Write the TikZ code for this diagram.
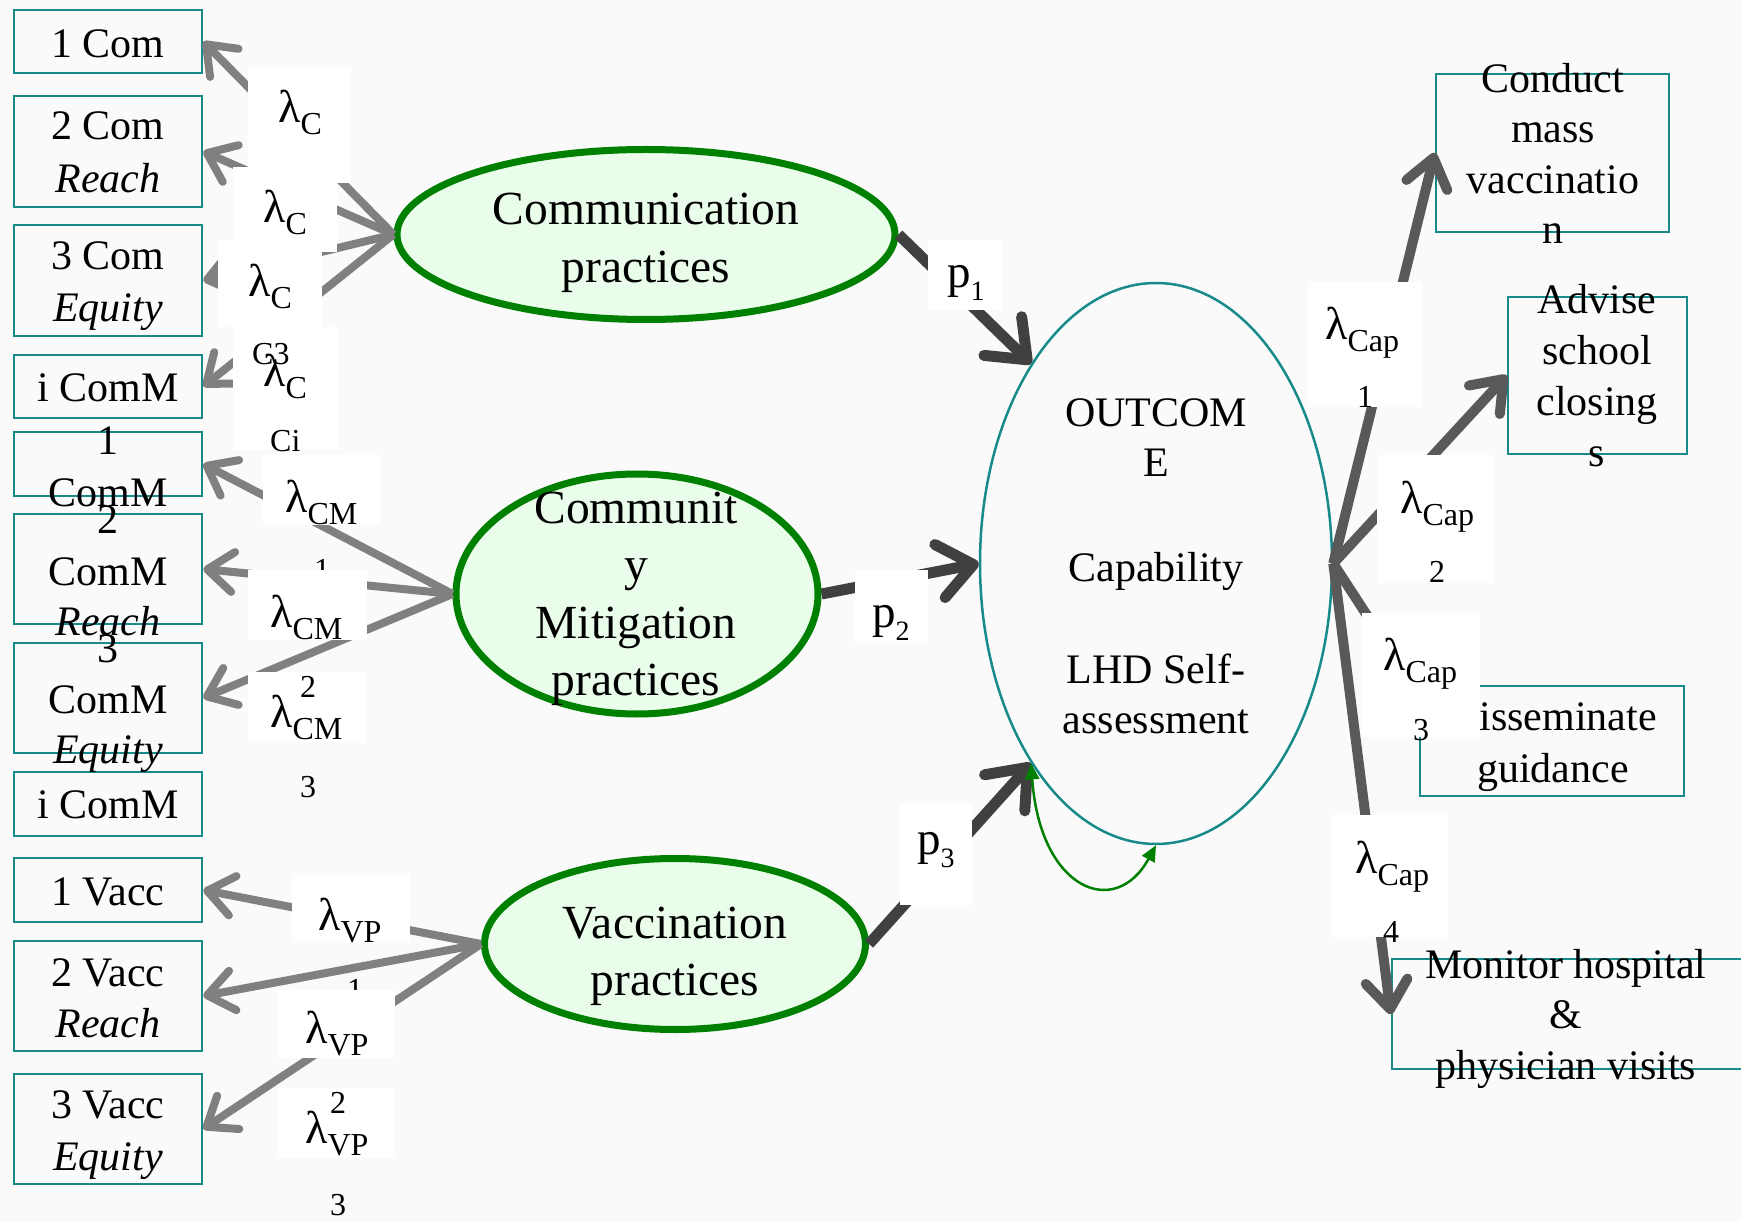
\documentclass[tikz,border=0pt]{standalone}
\usepackage{fontspec}
\setmainfont{Liberation Serif}
\usetikzlibrary{shapes.geometric,arrows.meta}
\definecolor{tealb}{RGB}{24,138,138}
\definecolor{ellg}{RGB}{0,128,0}
\definecolor{ellfill}{RGB}{234,252,234}
\definecolor{bgc}{RGB}{250,250,250}
\definecolor{lgray}{RGB}{128,128,128}
\definecolor{pdark}{RGB}{64,64,64}
\definecolor{rgray}{RGB}{89,89,89}
\newcommand\BoxF{\fontsize{42}{50}\selectfont}
\newcommand\EllF{\fontsize{47.5}{57}\selectfont}
\newcommand\LamF{\fontsize{46}{50}\selectfont}
\newcommand\SubF{\fontsize{32}{36}\selectfont}
\newcommand\PF{\fontsize{47}{52}\selectfont}
\newcommand\PSubF{\fontsize{28}{32}\selectfont}
\newcommand\lamlab[1]{{\LamF λ}\raisebox{-12pt}{\SubF #1}}
\newcommand\plab[1]{{\PF p}\raisebox{-13pt}{\PSubF #1}}
\begin{document}
\begin{tikzpicture}[x=1pt,y=-1pt,
  tbox/.style={rectangle, draw=tealb, line width=2.5pt, inner sep=0pt},
  gell/.style={ellipse, draw=ellg, line width=7pt, fill=ellfill, inner sep=0pt},
  oell/.style={ellipse, draw=tealb, line width=2.5pt, inner sep=0pt},
  btxt/.style={anchor=base, inner sep=0pt, font=\BoxF},
  etxt/.style={anchor=base, inner sep=0pt, font=\EllF},
  lab/.style={anchor=base west, inner sep=0pt},
  sublab/.style={anchor=base west, inner sep=0pt, font=\SubF},
  larrow/.style={draw=lgray, line width=8pt, -{Straight Barb[length=26pt,width=40pt,round]}},
  parrow/.style={draw=pdark, line width=11pt, -{Straight Barb[length=34pt,width=54pt,round]}},
  rarrow/.style={draw=rgray, line width=10pt, -{Straight Barb[length=28pt,width=42pt,round]}},
  varrow/.style={draw=ellg, line width=2.5pt, {Triangle[length=16pt,width=14pt]}-{Triangle[length=16pt,width=14pt]}},
  wlab/.style={fill=white}
]
\useasboundingbox (0,0) rectangle (1741,1222);
\fill[bgc] (0,0) rectangle (1741,1222);

% left indicator boxes
\node[tbox, minimum width=188pt, minimum height=63pt] (b1) at (108,41.5) {};
\node[tbox, minimum width=188pt, minimum height=111pt] (b2) at (108,151.5) {};
\node[tbox, minimum width=188pt, minimum height=111pt] (b3) at (108,280.5) {};
\node[tbox, minimum width=188pt, minimum height=63pt] (b4) at (108,386.5) {};
\node[tbox, minimum width=188pt, minimum height=64pt] (b5) at (108,464) {};
\node[tbox, minimum width=188pt, minimum height=110pt] (b6) at (108,569) {};
\node[tbox, minimum width=188pt, minimum height=110pt] (b7) at (108,698) {};
\node[tbox, minimum width=188pt, minimum height=64pt] (b8) at (108,804) {};
\node[tbox, minimum width=188pt, minimum height=64pt] (b9) at (108,890) {};
\node[tbox, minimum width=188pt, minimum height=110pt] (b10) at (108,996) {};
\node[tbox, minimum width=188pt, minimum height=110pt] (b11) at (108,1129) {};

\node[btxt] (t1) at (108,58) {1 Com};
\node[btxt] (t2a) at (108,140) {2 Com};
\node[btxt] (t2b) at (108,193) {\textit{Reach}};
\node[btxt] (t3a) at (108,270) {3 Com};
\node[btxt] (t3b) at (108,322) {\textit{Equity}};
\node[btxt] (t4) at (108,402) {i ComM};
\node[btxt] (t5a) at (108,455) {1};
\node[btxt] (t5b) at (108,507) {ComM};
\node[btxt] (t6a) at (108,533) {2};
\node[btxt] (t6b) at (108,585) {ComM};
\node[btxt] (t6c) at (108,635) {\textit{Reach}};
\node[btxt] (t7a) at (108,662) {3};
\node[btxt] (t7b) at (108,713) {ComM};
\node[btxt] (t7c) at (108,763) {\textit{Equity}};
\node[btxt] (t8) at (108,818) {i ComM};
\node[btxt] (t9) at (108,905) {1 Vacc};
\node[btxt] (t10a) at (108,986) {2 Vacc};
\node[btxt] (t10b) at (108,1037) {\textit{Reach}};
\node[btxt] (t11a) at (108,1118) {3 Vacc};
\node[btxt] (t11b) at (108,1170) {\textit{Equity}};

% right indicator boxes
\node[tbox, minimum width=233pt, minimum height=158pt] (r1) at (1552.5,153) {};
\node[tbox, minimum width=179pt, minimum height=157pt] (r2) at (1597.5,375.5) {};
\node[tbox, minimum width=264pt, minimum height=110pt] (r3) at (1552,741) {};
\node[tbox, minimum width=353pt, minimum height=110pt] (r4) at (1568.5,1014) {};

\node[btxt] (s1a) at (1553,93) {Conduct};
\node[btxt] (s1b) at (1553,143) {mass};
\node[btxt] (s1c) at (1553,194) {vaccinatio};
\node[btxt] (s1d) at (1553,244) {n};
\node[btxt] (s2a) at (1597,314) {Advise};
\node[btxt] (s2b) at (1597,365) {school};
\node[btxt] (s2c) at (1597,416) {closing};
\node[btxt] (s2d) at (1597,467) {s};
\node[btxt] (s3a) at (1553,730) {Disseminate};
\node[btxt] (s3b) at (1553,782) {guidance};
\node[btxt] (s4a) at (1566,978) {Monitor hospital};
\node[btxt] (s4b) at (1566,1028) {\&};
\node[btxt] (s4c) at (1566,1079) {physician visits};

% latent ellipses
\node[gell, minimum width=498pt, minimum height=170pt] (comm) at (646,234.5) {};
\node[gell, minimum width=362pt, minimum height=240pt] (cm) at (637,594) {};
\node[gell, minimum width=381pt, minimum height=171pt] (vacc) at (675,944) {};
\node[oell, minimum width=352pt, minimum height=561pt] (out) at (1156,563.5) {};

\node[etxt] (e1a) at (646,225) {Communication};
\node[etxt] (e1b) at (646,283) {practices};
\node[etxt] (e2a) at (636,523) {Communit};
\node[etxt] (e2b) at (636,580) {y};
\node[etxt] (e2c) at (636,638) {Mitigation};
\node[etxt] (e2d) at (636,695) {practices};
\node[etxt] (e3a) at (675,938) {Vaccination};
\node[etxt] (e3b) at (675,995) {practices};
\node[btxt] (o1) at (1156,427) {OUTCOM};
\node[btxt] (o2) at (1156,477) {E};
\node[btxt] (o3) at (1156,581) {Capability};
\node[btxt] (o4) at (1156,683) {LHD Self-};
\node[btxt] (o5) at (1156,733) {assessment};

% connectors
\draw[larrow] (comm.west) -- (b1.east);
\draw[larrow] (comm.west) -- (b2.east);
\draw[larrow] (comm.west) -- (b3.east);
\draw[larrow] (comm.west) -- (b4.east);
\draw[larrow] (cm.west) -- (b5.east);
\draw[larrow] (cm.west) -- (b6.east);
\draw[larrow] (cm.west) -- (b7.east);
\draw[larrow] (vacc.west) -- (b9.east);
\draw[larrow] (vacc.west) -- (b10.east);
\draw[larrow] (vacc.west) -- (b11.east);

\draw[parrow] (comm.east) -- (out.122);
\draw[parrow] (cm.east) -- (out.west);
\draw[parrow] (vacc.east) -- (out.238);

\coordinate (r3t) at (1430,712);
\draw[rarrow] (out.east) -- (r1.west);
\draw[rarrow] (out.east) -- (r2.west);
\draw[rarrow] (out.east) -- (r3t);
\draw[rarrow] (out.east) -- (r4.west);

\draw[varrow] (out.238) .. controls (1040,890) and (1115,920) .. (out.south);

% lambda C labels
\fill[wlab] (248,67) rectangle (351,183);
\fill[wlab] (233,167) rectangle (337,252);
\fill[wlab] (218,240) rectangle (322,327);
\fill[wlab] (233,327) rectangle (337,450);
\node[lab] (lc1) at (278,123) {\lamlab{C}};
\node[lab] (lc2) at (263,223) {\lamlab{C}};
\node[lab] (lc3) at (248,297) {\lamlab{C}};
\node[sublab] (lc3b) at (252,365) {C3};
\node[lab] (lc4) at (263,387) {\lamlab{C}};
\node[sublab] (lc4b) at (270,452) {Ci};

% lambda CM labels
\fill[wlab] (263,455) rectangle (380,525);
\node[lab] (lcm1) at (285,512) {\lamlab{CM}};
\node[sublab] (lcm1b) at (314,580) {1};
\fill[wlab] (248,570) rectangle (367,640);
\fill[wlab] (248,672) rectangle (367,743);
\node[lab] (lcm2) at (270,627) {\lamlab{CM}};
\node[sublab] (lcm2b) at (300,697) {2};
\node[lab] (lcm3) at (270,727) {\lamlab{CM}};
\node[sublab] (lcm3b) at (300,797) {3};

% lambda VP labels
\fill[wlab] (292,873) rectangle (410,943);
\node[lab] (lvp1) at (318,930) {\lamlab{VP}};
\node[sublab] (lvp1b) at (347,1000) {1};
\fill[wlab] (277,990) rectangle (395,1058);
\fill[wlab] (277,1088) rectangle (395,1158);
\node[lab] (lvp2) at (305,1043) {\lamlab{VP}};
\node[sublab] (lvp2b) at (330,1113) {2};
\node[lab] (lvp3) at (305,1143) {\lamlab{VP}};
\node[sublab] (lvp3b) at (330,1215) {3};

% path labels
\fill[wlab] (928,240) rectangle (1002,310);
\node[lab] (lp1) at (947,288) {\plab{1}};
\fill[wlab] (855,570) rectangle (928,643);
\node[lab] (lp2) at (872,627) {\plab{2}};
\fill[wlab] (900,804) rectangle (972,905);
\node[lab] (lp3) at (917,854) {\plab{3}};

% lambda Cap labels
\fill[wlab] (1308,282) rectangle (1422,407);
\node[lab] (lk1) at (1325,340) {\lamlab{Cap}};
\node[sublab] (lk1b) at (1357,408) {1};
\fill[wlab] (1377,455) rectangle (1493,583);
\node[lab] (lk2) at (1400,513) {\lamlab{Cap}};
\node[sublab] (lk2b) at (1429,582) {2};
\fill[wlab] (1362,613) rectangle (1480,737);
\node[lab] (lk3) at (1383,670) {\lamlab{Cap}};
\node[sublab] (lk3b) at (1413,740) {3};
\fill[wlab] (1332,815) rectangle (1448,937);
\node[lab] (lk4) at (1355,873) {\lamlab{Cap}};
\node[sublab] (lk4b) at (1383,942) {4};
\end{tikzpicture}
\end{document}
